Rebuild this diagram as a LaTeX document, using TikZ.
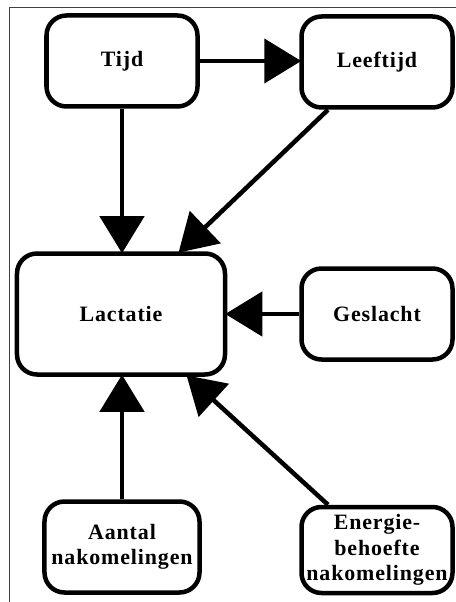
\documentclass[tikz,border=0pt]{standalone}
\usepackage{fontspec}
\newfontfamily\kopfont[LetterSpace=4]{Liberation Serif}
\usetikzlibrary{arrows.meta}

\begin{document}
\begin{tikzpicture}[x=1bp,y=-1bp,
	blok/.style={draw=black, line width=4.5bp, rounded corners=20bp, fill=white,
		align=center, inner sep=0pt, minimum width=151bp, minimum height=91bp,
		font=\kopfont\bfseries\fontsize{22}{25.5}\selectfont},
	pijl/.style={line width=4.5bp, -{Triangle[length=37bp,width=44bp]}, shorten >=-2bp}]

	\useasboundingbox (0,0) rectangle (456,602);

	% thin frame
	\draw[black!75, line width=.8bp] (9,602) -- (9,7) -- (456,7);

	% Boxes
	\node[blok] (tijd) at (122, 61) {Tijd};
	\node[blok] (leeftijd) at (377, 62) {Leeftijd};
	\node[blok, minimum width=208bp, minimum height=121bp] (lactatie) at (121, 314) {Lactatie};
	\node[blok] (geslacht) at (377, 314) {Geslacht};
	\node[blok, minimum width=155bp] (aantal) at (122, 547) {Aantal\\nakomelingen};
	\node[blok, minimum height=86bp] (energie) at (377, 550) {Energie-\\behoefte\\nakomelingen};

	% Arrows
	\draw[pijl] (tijd) -- (tijd -| leeftijd.west);
	\draw[pijl] (tijd) -- (tijd |- lactatie.north);
	\draw[pijl] ([xshift=-49bp]leeftijd.south) -- ([xshift=59bp]lactatie.north);
	\draw[pijl] (geslacht) -- (lactatie);
	\draw[pijl] (aantal) -- (aantal |- lactatie.south);
	\draw[pijl] ([xshift=-49bp]energie.north) -- ([xshift=67bp]lactatie.south);

\end{tikzpicture}
\end{document}
